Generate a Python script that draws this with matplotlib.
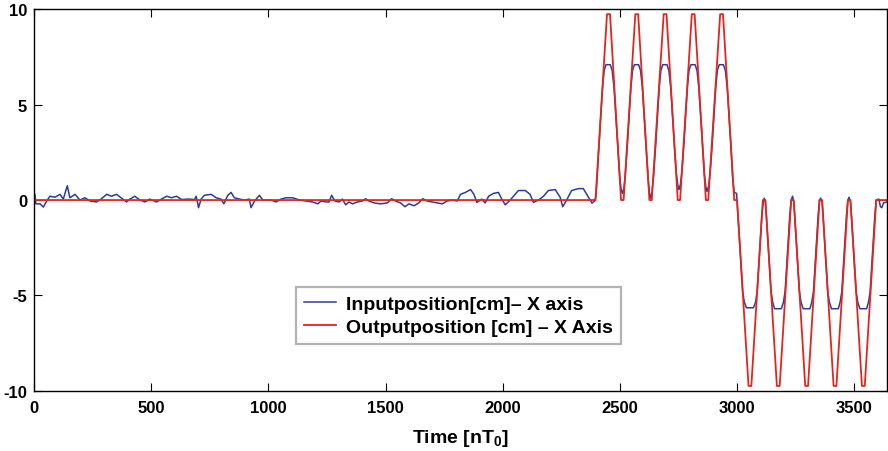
import matplotlib
matplotlib.use("Agg")
import matplotlib.pyplot as plt
import numpy as np

# measured input position, quiet part (time, cm)
input_quiet = [
    (0, 0.3), (4, 0.3), (8, -0.2), (26, -0.2), (40, -0.37), (54, -0.05), (68, 0.2),
    (90, 0.15), (111, 0.3), (125, 0.05), (142, 0.75), (153, 0.12), (175, 0.3), (196, 0.0),
    (217, 0.12), (239, -0.05), (267, -0.1), (288, 0.07), (310, 0.3), (331, 0.2), (352, 0.3),
    (374, 0.1), (395, -0.1), (409, 0.05), (430, 0.2), (452, 0.0), (473, -0.1), (494, 0.05),
    (523, -0.1), (544, 0.05), (566, 0.2), (587, 0.12), (608, 0.2), (630, 0.03), (660, 0.05),
    (685, 0.03), (692, 0.2), (702, -0.4), (713, 0.05), (727, 0.25), (756, 0.3), (777, 0.12),
    (798, 0.05), (810, -0.2), (827, 0.25), (841, 0.4), (855, 0.12), (877, 0.05), (898, 0.0),
    (919, 0.05), (926, -0.4), (941, -0.05), (962, 0.25), (976, 0.0), (1012, 0.0), (1033, -0.1),
    (1054, 0.05), (1075, 0.12), (1104, 0.12), (1133, 0.0), (1161, -0.05), (1189, -0.1),
    (1211, -0.2), (1225, -0.05), (1246, -0.1), (1259, -0.1), (1270, 0.25), (1284, -0.05),
    (1302, -0.1), (1316, 0.05), (1330, -0.25), (1344, -0.1), (1359, -0.2), (1380, -0.1),
    (1401, -0.05), (1415, 0.07), (1429, -0.05), (1451, -0.15), (1479, -0.2), (1508, -0.15),
    (1526, 0.07), (1543, -0.05), (1564, -0.15), (1583, -0.35), (1600, -0.2), (1621, -0.3),
    (1642, -0.15), (1659, 0.07), (1678, -0.05), (1699, -0.1), (1721, -0.15), (1742, -0.2),
    (1763, -0.05), (1785, 0.0), (1806, -0.05), (1820, 0.3), (1841, 0.4), (1863, 0.55),
    (1877, 0.3), (1890, -0.12), (1911, 0.05), (1925, -0.15), (1940, 0.2), (1961, 0.35),
    (1982, 0.4), (1996, 0.05), (2011, -0.25), (2032, 0.0), (2046, 0.2), (2067, 0.5),
    (2096, 0.5), (2117, 0.3), (2131, -0.12), (2153, 0.0), (2174, 0.2), (2195, 0.5),
    (2224, 0.55), (2245, 0.15), (2256, -0.35), (2273, 0.0), (2294, 0.5), (2323, 0.6),
    (2344, 0.6), (2366, 0.15), (2381, -0.16), (2392, -0.05),
]

# measured input position, oscillating part
input_swing = [
    (2398, 0.2), (2411, 2.9), (2426, 5.9), (2433, 6.8), (2441, 7.1), (2459, 7.1), (2467, 6.8),
    (2475, 5.9), (2491, 2.8), (2499, 1.3), (2505, 0.6), (2511, 0.35), (2517, 0.6),
    (2523, 1.3), (2532, 2.9), (2547, 5.9), (2554, 6.8), (2562, 7.1), (2580, 7.1), (2588, 6.8),
    (2596, 5.9), (2612, 2.8), (2620, 1.2), (2626, 0.4), (2631, 0.1), (2637, 0.4),
    (2644, 1.3), (2653, 2.9), (2668, 5.9), (2675, 6.8), (2683, 7.1), (2701, 7.1), (2709, 6.8),
    (2717, 5.9), (2733, 2.8), (2741, 1.4), (2747, 0.8), (2752, 0.55), (2758, 0.8),
    (2764, 1.4), (2773, 2.9), (2788, 5.9), (2795, 6.8), (2803, 7.1), (2821, 7.1), (2829, 6.8),
    (2837, 5.9), (2853, 2.8), (2861, 1.3), (2867, 0.7), (2872, 0.45), (2878, 0.7),
    (2885, 1.4), (2894, 2.9), (2909, 5.9), (2916, 6.8), (2924, 7.1), (2942, 7.1), (2950, 6.8),
    (2958, 5.9), (2974, 2.8), (2982, 1.0), (2988, 0.4), (2998, 0.35),
    (3004, -0.8), (3012, -2.4), (3024, -4.8), (3031, -5.35), (3040, -5.65), (3070, -5.65),
    (3079, -5.35), (3086, -4.8), (3098, -2.4), (3106, -0.8), (3112, -0.1), (3116, 0.1), (3121, -0.1),
    (3125, -0.8), (3133, -2.4), (3145, -4.8), (3152, -5.35), (3160, -5.7), (3189, -5.7),
    (3198, -5.35), (3205, -4.8), (3217, -2.4), (3225, -0.8), (3231, 0.0), (3237, 0.2), (3242, -0.1),
    (3246, -0.8), (3254, -2.4), (3266, -4.8), (3273, -5.35), (3282, -5.7), (3311, -5.7),
    (3319, -5.35), (3326, -4.8), (3338, -2.4), (3346, -0.8), (3352, 0.0), (3357, 0.1), (3363, -0.1),
    (3367, -0.8), (3375, -2.4), (3387, -4.8), (3394, -5.35), (3403, -5.7), (3432, -5.7),
    (3440, -5.35), (3447, -4.8), (3459, -2.4), (3467, -0.8), (3473, 0.0), (3478, 0.15), (3484, -0.1),
    (3488, -0.8), (3496, -2.4), (3508, -4.8), (3515, -5.35), (3524, -5.7), (3553, -5.7),
    (3561, -5.35), (3568, -4.8), (3580, -2.4), (3588, -0.8), (3594, 0.0), (3605, 0.05),
    (3612, -0.35), (3618, -0.4), (3625, -0.15), (3640, -0.1),
]

# output position (corner points of the reference trajectory)
output_pts = [
    (0, 0), (2396, 0),
    (2445, 9.75), (2458, 9.75), (2505, 0), (2516, 0),
    (2566, 9.75), (2578, 9.75), (2626, 0), (2636, 0),
    (2687, 9.75), (2699, 9.75), (2747, 0), (2757, 0),
    (2807, 9.75), (2819, 9.75), (2867, 0), (2877, 0),
    (2928, 9.75), (2940, 9.75), (2988, 0), (3000, 0),
    (3049, -9.75), (3061, -9.75), (3110, 0), (3121, 0),
    (3170, -9.75), (3182, -9.75), (3231, 0), (3242, 0),
    (3291, -9.75), (3303, -9.75), (3352, 0), (3363, 0),
    (3412, -9.75), (3424, -9.75), (3473, 0), (3484, 0),
    (3533, -9.75), (3545, -9.75), (3594, 0), (3640, 0),
]

x_ticks = [0, 500, 1000, 1500, 2000, 2500, 3000, 3500]
y_ticks = [-10, -5, 0, 5, 10]

plt.rcParams["font.family"] = ["Liberation Sans", "DejaVu Sans"]
plt.rcParams["font.weight"] = "bold"
plt.rcParams["axes.unicode_minus"] = False
plt.rcParams["mathtext.fontset"] = "custom"
plt.rcParams["mathtext.bf"] = "Liberation Sans:bold"
plt.rcParams["mathtext.rm"] = "Liberation Sans:bold"
plt.rcParams["mathtext.default"] = "bf"

inp = np.array(input_quiet + input_swing)
out = np.array(output_pts)

fig = plt.figure(figsize=(8.88, 4.52), dpi=100)
ax = fig.add_axes([0.0383, 0.1334, 0.9606, 0.8436])

ax.plot(inp[:, 0], inp[:, 1], color="#2c3c9c", lw=1.1,
        label="Inputposition[cm]\u2013 X axis")
ax.plot(out[:, 0], out[:, 1], color="#e3261d", lw=1.3,
        label="Outputposition [cm] \u2013 X Axis")

ax.set_xlim(0, 3640)
ax.set_ylim(-10, 10)
ax.set_xticks(x_ticks, labels=[str(v) for v in x_ticks], fontweight="bold", fontsize=12)
ax.set_yticks(y_ticks, labels=[str(v) for v in y_ticks], fontweight="bold", fontsize=12)
ax.tick_params(axis="x", pad=7)
ax.tick_params(axis="y", pad=5)
ax.tick_params(direction="in", length=5.5, width=0.8, top=True, right=True)
for sp in ax.spines.values():
    sp.set_linewidth(1.0)

ax.set_xlabel(r"Time [nT$_{0}$]", fontsize=14, fontweight="bold", labelpad=8)

leg = ax.legend(loc="lower left", bbox_to_anchor=(0.307, 0.123),
                frameon=True, fancybox=False, handlelength=1.65, handletextpad=0.55,
                borderpad=0.4, labelspacing=0.3, borderaxespad=0,
                prop={"weight": "bold", "size": 14})
leg.get_frame().set_edgecolor("#a0a0a0")
leg.get_frame().set_linewidth(1.6)

fig.savefig("out.png", dpi=100)
